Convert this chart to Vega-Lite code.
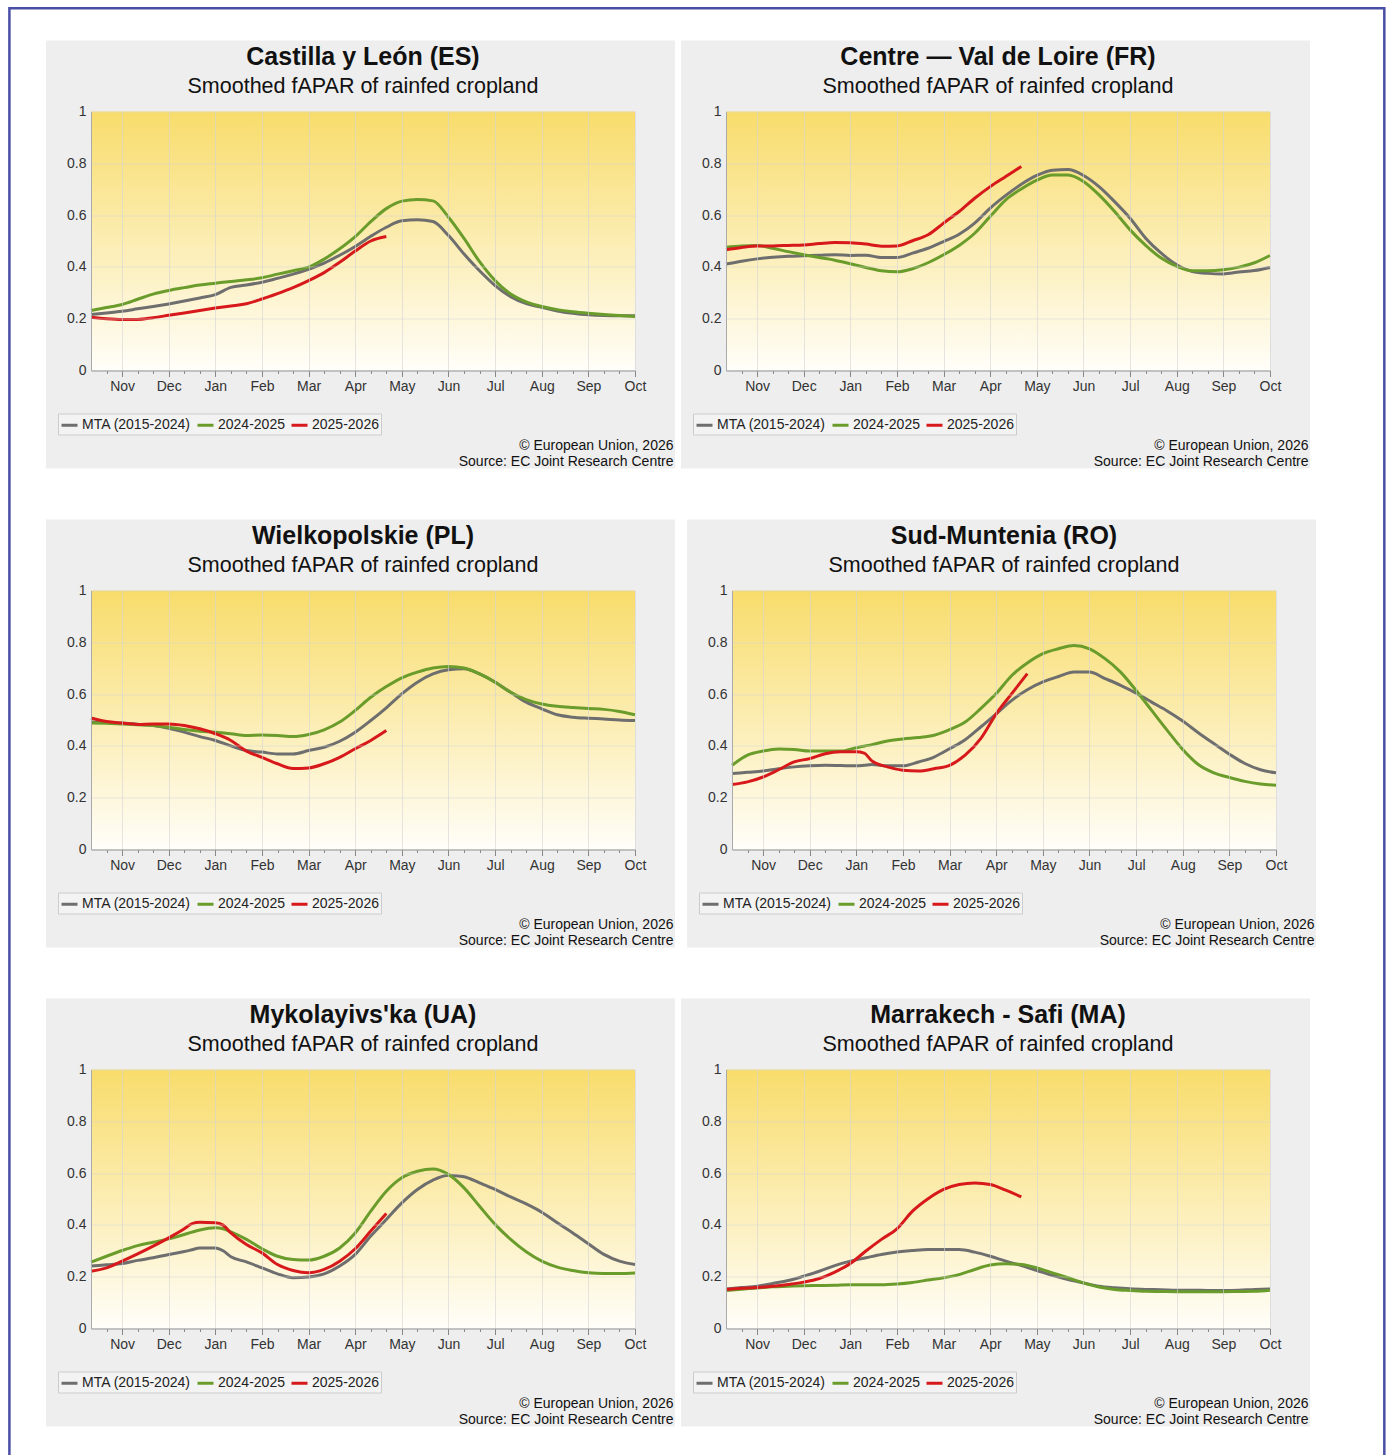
{
"$schema": "https://vega.github.io/schema/vega-lite/v6.json",
"padding": {"left": 8, "top": 6.5, "right": 5, "bottom": 5},
"background": "white",
"bounds": "flush",
"spacing": 479,
"resolve": {"scale": {"color": "independent"}, "legend": {"color": "independent"}},
"config": {
  "font": "Liberation Sans",
  "view": {"stroke": null},
  "title": {"fontSize": 25, "fontWeight": "bold", "color": "#111111", "subtitleFontSize": 21.5, "subtitleColor": "#111111", "subtitlePadding": 6, "anchor": "middle", "frame": "group", "subtitleFont": "Liberation Sans", "font": "Liberation Sans"},
  "axis": {"labelFont": "Liberation Sans", "labelFontSize": 14, "labelColor": "#333333", "titleFont": "Liberation Sans"},
  "legend": {"labelFont": "Liberation Sans"}
},
"datasets": {
"CL": [
{"d":0,"MTA (2015-2024)":0.216,"2024-2025":0.232,"2025-2026":0.206},
{"d":1,"MTA (2015-2024)":0.222,"2024-2025":0.243,"2025-2026":0.200},
{"d":2,"MTA (2015-2024)":0.229,"2024-2025":0.255,"2025-2026":0.197},
{"d":3,"MTA (2015-2024)":0.238,"2024-2025":0.275,"2025-2026":0.197},
{"d":4,"MTA (2015-2024)":0.247,"2024-2025":0.295,"2025-2026":0.204},
{"d":5,"MTA (2015-2024)":0.257,"2024-2025":0.309,"2025-2026":0.213},
{"d":6,"MTA (2015-2024)":0.268,"2024-2025":0.320,"2025-2026":0.222},
{"d":7,"MTA (2015-2024)":0.280,"2024-2025":0.330,"2025-2026":0.232},
{"d":8,"MTA (2015-2024)":0.293,"2024-2025":0.337,"2025-2026":0.241},
{"d":9,"MTA (2015-2024)":0.321,"2024-2025":0.344,"2025-2026":0.249},
{"d":10,"MTA (2015-2024)":0.330,"2024-2025":0.350,"2025-2026":0.258},
{"d":11,"MTA (2015-2024)":0.341,"2024-2025":0.358,"2025-2026":0.276},
{"d":12,"MTA (2015-2024)":0.356,"2024-2025":0.372,"2025-2026":0.297},
{"d":13,"MTA (2015-2024)":0.372,"2024-2025":0.385,"2025-2026":0.320},
{"d":14,"MTA (2015-2024)":0.391,"2024-2025":0.399,"2025-2026":0.347},
{"d":15,"MTA (2015-2024)":0.415,"2024-2025":0.430,"2025-2026":0.378},
{"d":16,"MTA (2015-2024)":0.445,"2024-2025":0.470,"2025-2026":0.418},
{"d":17,"MTA (2015-2024)":0.479,"2024-2025":0.517,"2025-2026":0.461},
{"d":18,"MTA (2015-2024)":0.518,"2024-2025":0.575,"2025-2026":0.500},
{"d":19,"MTA (2015-2024)":0.553,"2024-2025":0.625,"2025-2026":0.517},
{"d":20,"MTA (2015-2024)":0.578,"2024-2025":0.654},
{"d":21,"MTA (2015-2024)":0.582,"2024-2025":0.660},
{"d":22,"MTA (2015-2024)":0.575,"2024-2025":0.655},
{"d":23,"MTA (2015-2024)":0.521,"2024-2025":0.592},
{"d":24,"MTA (2015-2024)":0.450,"2024-2025":0.510},
{"d":25,"MTA (2015-2024)":0.385,"2024-2025":0.420},
{"d":26,"MTA (2015-2024)":0.328,"2024-2025":0.347},
{"d":27,"MTA (2015-2024)":0.285,"2024-2025":0.295},
{"d":28,"MTA (2015-2024)":0.258,"2024-2025":0.265},
{"d":29,"MTA (2015-2024)":0.244,"2024-2025":0.247},
{"d":30,"MTA (2015-2024)":0.230,"2024-2025":0.235},
{"d":31,"MTA (2015-2024)":0.221,"2024-2025":0.227},
{"d":32,"MTA (2015-2024)":0.215,"2024-2025":0.221},
{"d":33,"MTA (2015-2024)":0.212,"2024-2025":0.216},
{"d":34,"MTA (2015-2024)":0.211,"2024-2025":0.212},
{"d":35,"MTA (2015-2024)":0.211,"2024-2025":0.208}
],
"CVL": [
{"d":0,"MTA (2015-2024)":0.411,"2024-2025":0.476,"2025-2026":0.466},
{"d":1,"MTA (2015-2024)":0.422,"2024-2025":0.481,"2025-2026":0.475},
{"d":2,"MTA (2015-2024)":0.431,"2024-2025":0.483,"2025-2026":0.481},
{"d":3,"MTA (2015-2024)":0.437,"2024-2025":0.472,"2025-2026":0.481},
{"d":4,"MTA (2015-2024)":0.441,"2024-2025":0.459,"2025-2026":0.483},
{"d":5,"MTA (2015-2024)":0.443,"2024-2025":0.447,"2025-2026":0.485},
{"d":6,"MTA (2015-2024)":0.445,"2024-2025":0.436,"2025-2026":0.490},
{"d":7,"MTA (2015-2024)":0.447,"2024-2025":0.426,"2025-2026":0.494},
{"d":8,"MTA (2015-2024)":0.444,"2024-2025":0.412,"2025-2026":0.493},
{"d":9,"MTA (2015-2024)":0.445,"2024-2025":0.398,"2025-2026":0.488},
{"d":10,"MTA (2015-2024)":0.436,"2024-2025":0.385,"2025-2026":0.480},
{"d":11,"MTA (2015-2024)":0.436,"2024-2025":0.381,"2025-2026":0.481},
{"d":12,"MTA (2015-2024)":0.453,"2024-2025":0.393,"2025-2026":0.501},
{"d":13,"MTA (2015-2024)":0.472,"2024-2025":0.416,"2025-2026":0.524},
{"d":14,"MTA (2015-2024)":0.498,"2024-2025":0.447,"2025-2026":0.569},
{"d":15,"MTA (2015-2024)":0.526,"2024-2025":0.483,"2025-2026":0.614},
{"d":16,"MTA (2015-2024)":0.569,"2024-2025":0.530,"2025-2026":0.665},
{"d":17,"MTA (2015-2024)":0.627,"2024-2025":0.595,"2025-2026":0.710},
{"d":18,"MTA (2015-2024)":0.676,"2024-2025":0.659,"2025-2026":0.749},
{"d":19,"MTA (2015-2024)":0.719,"2024-2025":0.701,"2025-2026":0.788},
{"d":20,"MTA (2015-2024)":0.753,"2024-2025":0.735},
{"d":21,"MTA (2015-2024)":0.773,"2024-2025":0.755},
{"d":22,"MTA (2015-2024)":0.776,"2024-2025":0.755},
{"d":23,"MTA (2015-2024)":0.753,"2024-2025":0.730},
{"d":24,"MTA (2015-2024)":0.710,"2024-2025":0.678},
{"d":25,"MTA (2015-2024)":0.652,"2024-2025":0.614},
{"d":26,"MTA (2015-2024)":0.588,"2024-2025":0.543},
{"d":27,"MTA (2015-2024)":0.511,"2024-2025":0.483},
{"d":28,"MTA (2015-2024)":0.453,"2024-2025":0.434},
{"d":29,"MTA (2015-2024)":0.408,"2024-2025":0.402},
{"d":30,"MTA (2015-2024)":0.382,"2024-2025":0.385},
{"d":31,"MTA (2015-2024)":0.375,"2024-2025":0.385},
{"d":32,"MTA (2015-2024)":0.373,"2024-2025":0.389},
{"d":33,"MTA (2015-2024)":0.380,"2024-2025":0.399},
{"d":34,"MTA (2015-2024)":0.386,"2024-2025":0.416},
{"d":35,"MTA (2015-2024)":0.398,"2024-2025":0.444}
],
"WP": [
{"d":0,"MTA (2015-2024)":0.492,"2024-2025":0.488,"2025-2026":0.508},
{"d":1,"MTA (2015-2024)":0.490,"2024-2025":0.487,"2025-2026":0.494},
{"d":2,"MTA (2015-2024)":0.488,"2024-2025":0.485,"2025-2026":0.488},
{"d":3,"MTA (2015-2024)":0.484,"2024-2025":0.482,"2025-2026":0.483},
{"d":4,"MTA (2015-2024)":0.479,"2024-2025":0.479,"2025-2026":0.485},
{"d":5,"MTA (2015-2024)":0.468,"2024-2025":0.472,"2025-2026":0.485},
{"d":6,"MTA (2015-2024)":0.453,"2024-2025":0.463,"2025-2026":0.479},
{"d":7,"MTA (2015-2024)":0.436,"2024-2025":0.457,"2025-2026":0.466},
{"d":8,"MTA (2015-2024)":0.421,"2024-2025":0.453,"2025-2026":0.447},
{"d":9,"MTA (2015-2024)":0.400,"2024-2025":0.447,"2025-2026":0.421},
{"d":10,"MTA (2015-2024)":0.382,"2024-2025":0.440,"2025-2026":0.380},
{"d":11,"MTA (2015-2024)":0.376,"2024-2025":0.442,"2025-2026":0.356},
{"d":12,"MTA (2015-2024)":0.369,"2024-2025":0.440,"2025-2026":0.331},
{"d":13,"MTA (2015-2024)":0.369,"2024-2025":0.436,"2025-2026":0.313},
{"d":14,"MTA (2015-2024)":0.382,"2024-2025":0.444,"2025-2026":0.315},
{"d":15,"MTA (2015-2024)":0.395,"2024-2025":0.462,"2025-2026":0.331},
{"d":16,"MTA (2015-2024)":0.418,"2024-2025":0.492,"2025-2026":0.356},
{"d":17,"MTA (2015-2024)":0.453,"2024-2025":0.537,"2025-2026":0.389},
{"d":18,"MTA (2015-2024)":0.498,"2024-2025":0.588,"2025-2026":0.421},
{"d":19,"MTA (2015-2024)":0.547,"2024-2025":0.629,"2025-2026":0.459},
{"d":20,"MTA (2015-2024)":0.601,"2024-2025":0.663},
{"d":21,"MTA (2015-2024)":0.646,"2024-2025":0.685},
{"d":22,"MTA (2015-2024)":0.678,"2024-2025":0.701},
{"d":23,"MTA (2015-2024)":0.694,"2024-2025":0.707},
{"d":24,"MTA (2015-2024)":0.698,"2024-2025":0.701},
{"d":25,"MTA (2015-2024)":0.678,"2024-2025":0.678},
{"d":26,"MTA (2015-2024)":0.646,"2024-2025":0.646},
{"d":27,"MTA (2015-2024)":0.607,"2024-2025":0.607},
{"d":28,"MTA (2015-2024)":0.569,"2024-2025":0.579},
{"d":29,"MTA (2015-2024)":0.543,"2024-2025":0.562},
{"d":30,"MTA (2015-2024)":0.520,"2024-2025":0.553},
{"d":31,"MTA (2015-2024)":0.511,"2024-2025":0.548},
{"d":32,"MTA (2015-2024)":0.507,"2024-2025":0.544},
{"d":33,"MTA (2015-2024)":0.504,"2024-2025":0.541},
{"d":34,"MTA (2015-2024)":0.500,"2024-2025":0.533},
{"d":35,"MTA (2015-2024)":0.498,"2024-2025":0.520}
],
"SM": [
{"d":0,"MTA (2015-2024)":0.293,"2024-2025":0.325,"2025-2026":0.251},
{"d":1,"MTA (2015-2024)":0.298,"2024-2025":0.364,"2025-2026":0.261},
{"d":2,"MTA (2015-2024)":0.303,"2024-2025":0.380,"2025-2026":0.280},
{"d":3,"MTA (2015-2024)":0.312,"2024-2025":0.388,"2025-2026":0.308},
{"d":4,"MTA (2015-2024)":0.319,"2024-2025":0.386,"2025-2026":0.338},
{"d":5,"MTA (2015-2024)":0.323,"2024-2025":0.380,"2025-2026":0.351},
{"d":6,"MTA (2015-2024)":0.325,"2024-2025":0.380,"2025-2026":0.370},
{"d":7,"MTA (2015-2024)":0.324,"2024-2025":0.380,"2025-2026":0.377},
{"d":8,"MTA (2015-2024)":0.323,"2024-2025":0.393,"2025-2026":0.377},
{"d":8.5,"MTA (2015-2024)":0.325,"2024-2025":0.399,"2025-2026":0.372},
{"d":9,"MTA (2015-2024)":0.328,"2024-2025":0.405,"2025-2026":0.342},
{"d":10,"MTA (2015-2024)":0.323,"2024-2025":0.419,"2025-2026":0.319},
{"d":11,"MTA (2015-2024)":0.323,"2024-2025":0.427,"2025-2026":0.306},
{"d":12,"MTA (2015-2024)":0.338,"2024-2025":0.432,"2025-2026":0.303},
{"d":13,"MTA (2015-2024)":0.357,"2024-2025":0.441,"2025-2026":0.312},
{"d":14,"MTA (2015-2024)":0.389,"2024-2025":0.463,"2025-2026":0.325},
{"d":15,"MTA (2015-2024)":0.424,"2024-2025":0.492,"2025-2026":0.364},
{"d":16,"MTA (2015-2024)":0.473,"2024-2025":0.544,"2025-2026":0.428},
{"d":17,"MTA (2015-2024)":0.524,"2024-2025":0.602,"2025-2026":0.524},
{"d":18,"MTA (2015-2024)":0.576,"2024-2025":0.672,"2025-2026":0.602},
{"d":19,"MTA (2015-2024)":0.617,"2024-2025":0.720,"2025-2026":0.679},
{"d":20,"MTA (2015-2024)":0.647,"2024-2025":0.756},
{"d":21,"MTA (2015-2024)":0.668,"2024-2025":0.775},
{"d":22,"MTA (2015-2024)":0.685,"2024-2025":0.788},
{"d":23,"MTA (2015-2024)":0.685,"2024-2025":0.775},
{"d":24,"MTA (2015-2024)":0.660,"2024-2025":0.737},
{"d":25,"MTA (2015-2024)":0.634,"2024-2025":0.685},
{"d":26,"MTA (2015-2024)":0.604,"2024-2025":0.614},
{"d":27,"MTA (2015-2024)":0.569,"2024-2025":0.537},
{"d":28,"MTA (2015-2024)":0.535,"2024-2025":0.460},
{"d":29,"MTA (2015-2024)":0.496,"2024-2025":0.386},
{"d":30,"MTA (2015-2024)":0.451,"2024-2025":0.328},
{"d":31,"MTA (2015-2024)":0.409,"2024-2025":0.296},
{"d":32,"MTA (2015-2024)":0.368,"2024-2025":0.278},
{"d":33,"MTA (2015-2024)":0.332,"2024-2025":0.263},
{"d":34,"MTA (2015-2024)":0.308,"2024-2025":0.253},
{"d":35,"MTA (2015-2024)":0.296,"2024-2025":0.248}
],
"MY": [
{"d":0,"MTA (2015-2024)":0.241,"2024-2025":0.256,"2025-2026":0.221},
{"d":1,"MTA (2015-2024)":0.246,"2024-2025":0.279,"2025-2026":0.234},
{"d":2,"MTA (2015-2024)":0.251,"2024-2025":0.301,"2025-2026":0.260},
{"d":3,"MTA (2015-2024)":0.263,"2024-2025":0.320,"2025-2026":0.288},
{"d":4,"MTA (2015-2024)":0.273,"2024-2025":0.333,"2025-2026":0.318},
{"d":5,"MTA (2015-2024)":0.286,"2024-2025":0.346,"2025-2026":0.350},
{"d":6,"MTA (2015-2024)":0.297,"2024-2025":0.363,"2025-2026":0.385},
{"d":6.5,"MTA (2015-2024)":0.304,"2024-2025":0.372,"2025-2026":0.405},
{"d":7,"MTA (2015-2024)":0.311,"2024-2025":0.380,"2025-2026":0.410},
{"d":8,"MTA (2015-2024)":0.311,"2024-2025":0.389,"2025-2026":0.408},
{"d":8.5,"MTA (2015-2024)":0.300,"2024-2025":0.385,"2025-2026":0.399},
{"d":9,"MTA (2015-2024)":0.277,"2024-2025":0.373,"2025-2026":0.369},
{"d":10,"MTA (2015-2024)":0.257,"2024-2025":0.344,"2025-2026":0.324},
{"d":11,"MTA (2015-2024)":0.234,"2024-2025":0.308,"2025-2026":0.292},
{"d":12,"MTA (2015-2024)":0.211,"2024-2025":0.279,"2025-2026":0.247},
{"d":13,"MTA (2015-2024)":0.196,"2024-2025":0.266,"2025-2026":0.224},
{"d":14,"MTA (2015-2024)":0.199,"2024-2025":0.264,"2025-2026":0.215},
{"d":15,"MTA (2015-2024)":0.211,"2024-2025":0.279,"2025-2026":0.228},
{"d":16,"MTA (2015-2024)":0.241,"2024-2025":0.311,"2025-2026":0.260},
{"d":17,"MTA (2015-2024)":0.286,"2024-2025":0.369,"2025-2026":0.308},
{"d":18,"MTA (2015-2024)":0.357,"2024-2025":0.453,"2025-2026":0.376},
{"d":19,"MTA (2015-2024)":0.421,"2024-2025":0.530,"2025-2026":0.444},
{"d":20,"MTA (2015-2024)":0.485,"2024-2025":0.582},
{"d":21,"MTA (2015-2024)":0.537,"2024-2025":0.607},
{"d":22,"MTA (2015-2024)":0.573,"2024-2025":0.616},
{"d":23,"MTA (2015-2024)":0.592,"2024-2025":0.595},
{"d":24,"MTA (2015-2024)":0.586,"2024-2025":0.543},
{"d":25,"MTA (2015-2024)":0.562,"2024-2025":0.472},
{"d":26,"MTA (2015-2024)":0.537,"2024-2025":0.402},
{"d":27,"MTA (2015-2024)":0.508,"2024-2025":0.344},
{"d":28,"MTA (2015-2024)":0.481,"2024-2025":0.296},
{"d":29,"MTA (2015-2024)":0.449,"2024-2025":0.260},
{"d":30,"MTA (2015-2024)":0.408,"2024-2025":0.237},
{"d":31,"MTA (2015-2024)":0.369,"2024-2025":0.224},
{"d":32,"MTA (2015-2024)":0.327,"2024-2025":0.215},
{"d":33,"MTA (2015-2024)":0.286,"2024-2025":0.212},
{"d":34,"MTA (2015-2024)":0.260,"2024-2025":0.212},
{"d":35,"MTA (2015-2024)":0.247,"2024-2025":0.214}
],
"MS": [
{"d":0,"MTA (2015-2024)":0.153,"2024-2025":0.147,"2025-2026":0.151},
{"d":1,"MTA (2015-2024)":0.158,"2024-2025":0.152,"2025-2026":0.155},
{"d":2,"MTA (2015-2024)":0.163,"2024-2025":0.156,"2025-2026":0.158},
{"d":3,"MTA (2015-2024)":0.174,"2024-2025":0.161,"2025-2026":0.163},
{"d":4,"MTA (2015-2024)":0.185,"2024-2025":0.163,"2025-2026":0.170},
{"d":5,"MTA (2015-2024)":0.202,"2024-2025":0.165,"2025-2026":0.179},
{"d":6,"MTA (2015-2024)":0.221,"2024-2025":0.166,"2025-2026":0.193},
{"d":7,"MTA (2015-2024)":0.243,"2024-2025":0.167,"2025-2026":0.218},
{"d":8,"MTA (2015-2024)":0.260,"2024-2025":0.169,"2025-2026":0.251},
{"d":9,"MTA (2015-2024)":0.273,"2024-2025":0.169,"2025-2026":0.299},
{"d":10,"MTA (2015-2024)":0.286,"2024-2025":0.169,"2025-2026":0.344},
{"d":11,"MTA (2015-2024)":0.295,"2024-2025":0.172,"2025-2026":0.385},
{"d":12,"MTA (2015-2024)":0.301,"2024-2025":0.178,"2025-2026":0.453},
{"d":13,"MTA (2015-2024)":0.305,"2024-2025":0.187,"2025-2026":0.501},
{"d":14,"MTA (2015-2024)":0.305,"2024-2025":0.196,"2025-2026":0.537},
{"d":15,"MTA (2015-2024)":0.305,"2024-2025":0.208,"2025-2026":0.556},
{"d":16,"MTA (2015-2024)":0.295,"2024-2025":0.228,"2025-2026":0.562},
{"d":17,"MTA (2015-2024)":0.279,"2024-2025":0.245,"2025-2026":0.556},
{"d":18,"MTA (2015-2024)":0.260,"2024-2025":0.250,"2025-2026":0.534},
{"d":19,"MTA (2015-2024)":0.243,"2024-2025":0.247,"2025-2026":0.508},
{"d":20,"MTA (2015-2024)":0.224,"2024-2025":0.234},
{"d":21,"MTA (2015-2024)":0.205,"2024-2025":0.215},
{"d":22,"MTA (2015-2024)":0.189,"2024-2025":0.196},
{"d":23,"MTA (2015-2024)":0.176,"2024-2025":0.176},
{"d":24,"MTA (2015-2024)":0.163,"2024-2025":0.160},
{"d":25,"MTA (2015-2024)":0.157,"2024-2025":0.151},
{"d":26,"MTA (2015-2024)":0.153,"2024-2025":0.147},
{"d":27,"MTA (2015-2024)":0.151,"2024-2025":0.144},
{"d":28,"MTA (2015-2024)":0.150,"2024-2025":0.143},
{"d":29,"MTA (2015-2024)":0.148,"2024-2025":0.142},
{"d":30,"MTA (2015-2024)":0.148,"2024-2025":0.142},
{"d":31,"MTA (2015-2024)":0.147,"2024-2025":0.142},
{"d":32,"MTA (2015-2024)":0.147,"2024-2025":0.142},
{"d":33,"MTA (2015-2024)":0.148,"2024-2025":0.143},
{"d":34,"MTA (2015-2024)":0.151,"2024-2025":0.144},
{"d":35,"MTA (2015-2024)":0.153,"2024-2025":0.148}
]
},
"vconcat": [
{"hconcat": [
{"width": 544, "height": 259,
 "title": {"text": "Castilla y León (ES)", "subtitle": "Smoothed fAPAR of rainfed cropland", "offset": -91},
 "layer": [
  {"data": {"values": [{}]}, "mark": {"type": "rect", "fill": "transparent", "stroke": "#4a4fa6", "strokeWidth": 2.5},
   "encoding": {"x": {"datum": -5.25, "type": "quantitative", "scale": {"domain": [0,35], "nice": false, "zero": false}}, "x2": {"datum": 83.21},
                "y": {"datum": 1.3988, "type": "quantitative", "scale": {"domain": [0,1], "nice": false, "zero": false}}, "y2": {"datum": -4.29}}},
  {"data": {"values": [{}]}, "mark": {"type": "rect", "fill": "#eeeeee"},
   "encoding": {"x": {"datum": -2.895, "type": "quantitative", "scale": {"domain": [0,35], "nice": false, "zero": false}}, "x2": {"datum": 37.573},
                "y": {"datum": -0.3784, "type": "quantitative", "scale": {"domain": [0,1], "nice": false, "zero": false}}, "y2": {"datum": 1.2741}}},
  {"data": {"values": [{}]}, "mark": {"type": "rect", "fill": {"gradient": "linear", "x1": 0, "y1": 0, "x2": 0, "y2": 1, "stops": [{"offset": 0, "color": "#f8dc6b"}, {"offset": 1, "color": "#fffef9"}]}},
   "encoding": {"x": {"datum": 0, "type": "quantitative", "scale": {"domain": [0,35], "nice": false, "zero": false}}, "x2": {"datum": 35},
                "y": {"datum": 0, "type": "quantitative", "scale": {"domain": [0,1], "nice": false, "zero": false}}, "y2": {"datum": 1}}},
  {"data": {"name": "CL"},
   "transform": [{"fold": ["MTA (2015-2024)", "2024-2025", "2025-2026"], "as": ["series", "fapar"]}, {"filter": "isValid(datum.fapar)"}],
   "mark": {"type": "line", "interpolate": "monotone", "strokeWidth": 3, "zindex": 2},
   "encoding": {
    "x": {"field": "d", "type": "quantitative", "scale": {"domain": [0,35], "nice": false, "zero": false},
          "axis": {"values": [1,2,3,4,5,6,7,8,9,10,11,12,13,14,15,16,17,18,19,20,21,22,23,24,25,26,27,28,29,30,31,32,33,34,35], "tickCount": 40,
                   "labelExpr": "datum.value % 3 == 2 ? ['Nov','Dec','Jan','Feb','Mar','Apr','May','Jun','Jul','Aug','Sep','Oct'][(datum.value - 2) / 3] : ''",
                   "tickSize": {"condition": {"test": "datum.value % 3 == 2", "value": 6}, "value": 3}, "tickColor": "#888888", "domainColor": "#999999",
                   "grid": true, "gridColor": "#d4d4d4", "gridOpacity": {"condition": {"test": "datum.value % 3 == 2", "value": 0.6}, "value": 0},
                   "labelOverlap": false, "labelFlush": false, "labelBound": false, "labelPadding": 3, "zindex": 1,
                   "title": ["© European Union, 2026", "Source: EC Joint Research Centre"], "titleX": 582, "titleY": 79, "titleAlign": "right", "titleAnchor": "end", "titleBaseline": "alphabetic",
                   "titleFontSize": 14, "titleFontWeight": "normal", "titleColor": "#111111", "titleLineHeight": 16}},
    "y": {"field": "fapar", "type": "quantitative", "scale": {"domain": [0,1], "nice": false, "zero": false},
          "axis": {"values": [0,0.2,0.4,0.6,0.8,1], "format": ".1~f", "ticks": false, "domainColor": "#aaaaaa", "labelPadding": 5, "grid": true, "gridColor": "#d4d4d4", "gridOpacity": 0.5, "title": null, "zindex": 1}},
    "color": {"field": "series", "type": "nominal", "scale": {"domain": ["MTA (2015-2024)", "2024-2025", "2025-2026"], "range": ["#6e6e6e", "#6a9c2c", "#d7191c"]},
              "legend": {"orient": "none", "legendX": -33, "legendY": 302, "direction": "horizontal", "title": null, "symbolType": "stroke", "symbolSize": 256, "symbolStrokeWidth": 3,
                         "labelFontSize": 14, "labelColor": "#222222", "labelOffset": 3, "columnPadding": 0, "padding": 2, "strokeColor": "#cccccc", "fillColor": "#f3f3f3"}}
   }}
 ]},
{"width": 544, "height": 259,
 "title": {"text": "Centre — Val de Loire (FR)", "subtitle": "Smoothed fAPAR of rainfed cropland", "offset": -57},
 "layer": [
  {"data": {"values": [{}]}, "mark": {"type": "rect", "fill": "#eeeeee"},
   "encoding": {"x": {"datum": -2.895, "type": "quantitative", "scale": {"domain": [0,35], "nice": false, "zero": false}}, "x2": {"datum": 37.573},
                "y": {"datum": -0.3784, "type": "quantitative", "scale": {"domain": [0,1], "nice": false, "zero": false}}, "y2": {"datum": 1.2741}}},
  {"data": {"values": [{}]}, "mark": {"type": "rect", "fill": {"gradient": "linear", "x1": 0, "y1": 0, "x2": 0, "y2": 1, "stops": [{"offset": 0, "color": "#f8dc6b"}, {"offset": 1, "color": "#fffef9"}]}},
   "encoding": {"x": {"datum": 0, "type": "quantitative", "scale": {"domain": [0,35], "nice": false, "zero": false}}, "x2": {"datum": 35},
                "y": {"datum": 0, "type": "quantitative", "scale": {"domain": [0,1], "nice": false, "zero": false}}, "y2": {"datum": 1}}},
  {"data": {"name": "CVL"},
   "transform": [{"fold": ["MTA (2015-2024)", "2024-2025", "2025-2026"], "as": ["series", "fapar"]}, {"filter": "isValid(datum.fapar)"}],
   "mark": {"type": "line", "interpolate": "monotone", "strokeWidth": 3, "zindex": 2},
   "encoding": {
    "x": {"field": "d", "type": "quantitative", "scale": {"domain": [0,35], "nice": false, "zero": false},
          "axis": {"values": [1,2,3,4,5,6,7,8,9,10,11,12,13,14,15,16,17,18,19,20,21,22,23,24,25,26,27,28,29,30,31,32,33,34,35], "tickCount": 40,
                   "labelExpr": "datum.value % 3 == 2 ? ['Nov','Dec','Jan','Feb','Mar','Apr','May','Jun','Jul','Aug','Sep','Oct'][(datum.value - 2) / 3] : ''",
                   "tickSize": {"condition": {"test": "datum.value % 3 == 2", "value": 6}, "value": 3}, "tickColor": "#888888", "domainColor": "#999999",
                   "grid": true, "gridColor": "#d4d4d4", "gridOpacity": {"condition": {"test": "datum.value % 3 == 2", "value": 0.6}, "value": 0},
                   "labelOverlap": false, "labelFlush": false, "labelBound": false, "labelPadding": 3, "zindex": 1,
                   "title": ["© European Union, 2026", "Source: EC Joint Research Centre"], "titleX": 582, "titleY": 79, "titleAlign": "right", "titleAnchor": "end", "titleBaseline": "alphabetic",
                   "titleFontSize": 14, "titleFontWeight": "normal", "titleColor": "#111111", "titleLineHeight": 16}},
    "y": {"field": "fapar", "type": "quantitative", "scale": {"domain": [0,1], "nice": false, "zero": false},
          "axis": {"values": [0,0.2,0.4,0.6,0.8,1], "format": ".1~f", "ticks": false, "domainColor": "#aaaaaa", "labelPadding": 5, "grid": true, "gridColor": "#d4d4d4", "gridOpacity": 0.5, "title": null, "zindex": 1}},
    "color": {"field": "series", "type": "nominal", "scale": {"domain": ["MTA (2015-2024)", "2024-2025", "2025-2026"], "range": ["#6e6e6e", "#6a9c2c", "#d7191c"]},
              "legend": {"orient": "none", "legendX": -33, "legendY": 302, "direction": "horizontal", "title": null, "symbolType": "stroke", "symbolSize": 256, "symbolStrokeWidth": 3,
                         "labelFontSize": 14, "labelColor": "#222222", "labelOffset": 3, "columnPadding": 0, "padding": 2, "strokeColor": "#cccccc", "fillColor": "#f3f3f3"}}
   }}
 ]}
], "spacing": 91, "bounds": "flush", "resolve": {"scale": {"color": "independent"}, "legend": {"color": "independent"}}},
{"hconcat": [
{"width": 544, "height": 259,
 "title": {"text": "Wielkopolskie (PL)", "subtitle": "Smoothed fAPAR of rainfed cropland", "offset": -57},
 "layer": [
  {"data": {"values": [{}]}, "mark": {"type": "rect", "fill": "#eeeeee"},
   "encoding": {"x": {"datum": -2.895, "type": "quantitative", "scale": {"domain": [0,35], "nice": false, "zero": false}}, "x2": {"datum": 37.573},
                "y": {"datum": -0.3784, "type": "quantitative", "scale": {"domain": [0,1], "nice": false, "zero": false}}, "y2": {"datum": 1.2741}}},
  {"data": {"values": [{}]}, "mark": {"type": "rect", "fill": {"gradient": "linear", "x1": 0, "y1": 0, "x2": 0, "y2": 1, "stops": [{"offset": 0, "color": "#f8dc6b"}, {"offset": 1, "color": "#fffef9"}]}},
   "encoding": {"x": {"datum": 0, "type": "quantitative", "scale": {"domain": [0,35], "nice": false, "zero": false}}, "x2": {"datum": 35},
                "y": {"datum": 0, "type": "quantitative", "scale": {"domain": [0,1], "nice": false, "zero": false}}, "y2": {"datum": 1}}},
  {"data": {"name": "WP"},
   "transform": [{"fold": ["MTA (2015-2024)", "2024-2025", "2025-2026"], "as": ["series", "fapar"]}, {"filter": "isValid(datum.fapar)"}],
   "mark": {"type": "line", "interpolate": "monotone", "strokeWidth": 3, "zindex": 2},
   "encoding": {
    "x": {"field": "d", "type": "quantitative", "scale": {"domain": [0,35], "nice": false, "zero": false},
          "axis": {"values": [1,2,3,4,5,6,7,8,9,10,11,12,13,14,15,16,17,18,19,20,21,22,23,24,25,26,27,28,29,30,31,32,33,34,35], "tickCount": 40,
                   "labelExpr": "datum.value % 3 == 2 ? ['Nov','Dec','Jan','Feb','Mar','Apr','May','Jun','Jul','Aug','Sep','Oct'][(datum.value - 2) / 3] : ''",
                   "tickSize": {"condition": {"test": "datum.value % 3 == 2", "value": 6}, "value": 3}, "tickColor": "#888888", "domainColor": "#999999",
                   "grid": true, "gridColor": "#d4d4d4", "gridOpacity": {"condition": {"test": "datum.value % 3 == 2", "value": 0.6}, "value": 0},
                   "labelOverlap": false, "labelFlush": false, "labelBound": false, "labelPadding": 3, "zindex": 1,
                   "title": ["© European Union, 2026", "Source: EC Joint Research Centre"], "titleX": 582, "titleY": 79, "titleAlign": "right", "titleAnchor": "end", "titleBaseline": "alphabetic",
                   "titleFontSize": 14, "titleFontWeight": "normal", "titleColor": "#111111", "titleLineHeight": 16}},
    "y": {"field": "fapar", "type": "quantitative", "scale": {"domain": [0,1], "nice": false, "zero": false},
          "axis": {"values": [0,0.2,0.4,0.6,0.8,1], "format": ".1~f", "ticks": false, "domainColor": "#aaaaaa", "labelPadding": 5, "grid": true, "gridColor": "#d4d4d4", "gridOpacity": 0.5, "title": null, "zindex": 1}},
    "color": {"field": "series", "type": "nominal", "scale": {"domain": ["MTA (2015-2024)", "2024-2025", "2025-2026"], "range": ["#6e6e6e", "#6a9c2c", "#d7191c"]},
              "legend": {"orient": "none", "legendX": -33, "legendY": 302, "direction": "horizontal", "title": null, "symbolType": "stroke", "symbolSize": 256, "symbolStrokeWidth": 3,
                         "labelFontSize": 14, "labelColor": "#222222", "labelOffset": 3, "columnPadding": 0, "padding": 2, "strokeColor": "#cccccc", "fillColor": "#f3f3f3"}}
   }}
 ]},
{"width": 544, "height": 259,
 "title": {"text": "Sud-Muntenia (RO)", "subtitle": "Smoothed fAPAR of rainfed cropland", "offset": -57},
 "layer": [
  {"data": {"values": [{}]}, "mark": {"type": "rect", "fill": "#eeeeee"},
   "encoding": {"x": {"datum": -2.895, "type": "quantitative", "scale": {"domain": [0,35], "nice": false, "zero": false}}, "x2": {"datum": 37.573},
                "y": {"datum": -0.3784, "type": "quantitative", "scale": {"domain": [0,1], "nice": false, "zero": false}}, "y2": {"datum": 1.2741}}},
  {"data": {"values": [{}]}, "mark": {"type": "rect", "fill": {"gradient": "linear", "x1": 0, "y1": 0, "x2": 0, "y2": 1, "stops": [{"offset": 0, "color": "#f8dc6b"}, {"offset": 1, "color": "#fffef9"}]}},
   "encoding": {"x": {"datum": 0, "type": "quantitative", "scale": {"domain": [0,35], "nice": false, "zero": false}}, "x2": {"datum": 35},
                "y": {"datum": 0, "type": "quantitative", "scale": {"domain": [0,1], "nice": false, "zero": false}}, "y2": {"datum": 1}}},
  {"data": {"name": "SM"},
   "transform": [{"fold": ["MTA (2015-2024)", "2024-2025", "2025-2026"], "as": ["series", "fapar"]}, {"filter": "isValid(datum.fapar)"}],
   "mark": {"type": "line", "interpolate": "monotone", "strokeWidth": 3, "zindex": 2},
   "encoding": {
    "x": {"field": "d", "type": "quantitative", "scale": {"domain": [0,35], "nice": false, "zero": false},
          "axis": {"values": [1,2,3,4,5,6,7,8,9,10,11,12,13,14,15,16,17,18,19,20,21,22,23,24,25,26,27,28,29,30,31,32,33,34,35], "tickCount": 40,
                   "labelExpr": "datum.value % 3 == 2 ? ['Nov','Dec','Jan','Feb','Mar','Apr','May','Jun','Jul','Aug','Sep','Oct'][(datum.value - 2) / 3] : ''",
                   "tickSize": {"condition": {"test": "datum.value % 3 == 2", "value": 6}, "value": 3}, "tickColor": "#888888", "domainColor": "#999999",
                   "grid": true, "gridColor": "#d4d4d4", "gridOpacity": {"condition": {"test": "datum.value % 3 == 2", "value": 0.6}, "value": 0},
                   "labelOverlap": false, "labelFlush": false, "labelBound": false, "labelPadding": 3, "zindex": 1,
                   "title": ["© European Union, 2026", "Source: EC Joint Research Centre"], "titleX": 582, "titleY": 79, "titleAlign": "right", "titleAnchor": "end", "titleBaseline": "alphabetic",
                   "titleFontSize": 14, "titleFontWeight": "normal", "titleColor": "#111111", "titleLineHeight": 16}},
    "y": {"field": "fapar", "type": "quantitative", "scale": {"domain": [0,1], "nice": false, "zero": false},
          "axis": {"values": [0,0.2,0.4,0.6,0.8,1], "format": ".1~f", "ticks": false, "domainColor": "#aaaaaa", "labelPadding": 5, "grid": true, "gridColor": "#d4d4d4", "gridOpacity": 0.5, "title": null, "zindex": 1}},
    "color": {"field": "series", "type": "nominal", "scale": {"domain": ["MTA (2015-2024)", "2024-2025", "2025-2026"], "range": ["#6e6e6e", "#6a9c2c", "#d7191c"]},
              "legend": {"orient": "none", "legendX": -33, "legendY": 302, "direction": "horizontal", "title": null, "symbolType": "stroke", "symbolSize": 256, "symbolStrokeWidth": 3,
                         "labelFontSize": 14, "labelColor": "#222222", "labelOffset": 3, "columnPadding": 0, "padding": 2, "strokeColor": "#cccccc", "fillColor": "#f3f3f3"}}
   }}
 ]}
], "spacing": 97, "bounds": "flush", "resolve": {"scale": {"color": "independent"}, "legend": {"color": "independent"}}},
{"hconcat": [
{"width": 544, "height": 259,
 "title": {"text": "Mykolayivs'ka (UA)", "subtitle": "Smoothed fAPAR of rainfed cropland", "offset": -57},
 "layer": [
  {"data": {"values": [{}]}, "mark": {"type": "rect", "fill": "#eeeeee"},
   "encoding": {"x": {"datum": -2.895, "type": "quantitative", "scale": {"domain": [0,35], "nice": false, "zero": false}}, "x2": {"datum": 37.573},
                "y": {"datum": -0.3784, "type": "quantitative", "scale": {"domain": [0,1], "nice": false, "zero": false}}, "y2": {"datum": 1.2741}}},
  {"data": {"values": [{}]}, "mark": {"type": "rect", "fill": {"gradient": "linear", "x1": 0, "y1": 0, "x2": 0, "y2": 1, "stops": [{"offset": 0, "color": "#f8dc6b"}, {"offset": 1, "color": "#fffef9"}]}},
   "encoding": {"x": {"datum": 0, "type": "quantitative", "scale": {"domain": [0,35], "nice": false, "zero": false}}, "x2": {"datum": 35},
                "y": {"datum": 0, "type": "quantitative", "scale": {"domain": [0,1], "nice": false, "zero": false}}, "y2": {"datum": 1}}},
  {"data": {"name": "MY"},
   "transform": [{"fold": ["MTA (2015-2024)", "2024-2025", "2025-2026"], "as": ["series", "fapar"]}, {"filter": "isValid(datum.fapar)"}],
   "mark": {"type": "line", "interpolate": "monotone", "strokeWidth": 3, "zindex": 2},
   "encoding": {
    "x": {"field": "d", "type": "quantitative", "scale": {"domain": [0,35], "nice": false, "zero": false},
          "axis": {"values": [1,2,3,4,5,6,7,8,9,10,11,12,13,14,15,16,17,18,19,20,21,22,23,24,25,26,27,28,29,30,31,32,33,34,35], "tickCount": 40,
                   "labelExpr": "datum.value % 3 == 2 ? ['Nov','Dec','Jan','Feb','Mar','Apr','May','Jun','Jul','Aug','Sep','Oct'][(datum.value - 2) / 3] : ''",
                   "tickSize": {"condition": {"test": "datum.value % 3 == 2", "value": 6}, "value": 3}, "tickColor": "#888888", "domainColor": "#999999",
                   "grid": true, "gridColor": "#d4d4d4", "gridOpacity": {"condition": {"test": "datum.value % 3 == 2", "value": 0.6}, "value": 0},
                   "labelOverlap": false, "labelFlush": false, "labelBound": false, "labelPadding": 3, "zindex": 1,
                   "title": ["© European Union, 2026", "Source: EC Joint Research Centre"], "titleX": 582, "titleY": 79, "titleAlign": "right", "titleAnchor": "end", "titleBaseline": "alphabetic",
                   "titleFontSize": 14, "titleFontWeight": "normal", "titleColor": "#111111", "titleLineHeight": 16}},
    "y": {"field": "fapar", "type": "quantitative", "scale": {"domain": [0,1], "nice": false, "zero": false},
          "axis": {"values": [0,0.2,0.4,0.6,0.8,1], "format": ".1~f", "ticks": false, "domainColor": "#aaaaaa", "labelPadding": 5, "grid": true, "gridColor": "#d4d4d4", "gridOpacity": 0.5, "title": null, "zindex": 1}},
    "color": {"field": "series", "type": "nominal", "scale": {"domain": ["MTA (2015-2024)", "2024-2025", "2025-2026"], "range": ["#6e6e6e", "#6a9c2c", "#d7191c"]},
              "legend": {"orient": "none", "legendX": -33, "legendY": 302, "direction": "horizontal", "title": null, "symbolType": "stroke", "symbolSize": 256, "symbolStrokeWidth": 3,
                         "labelFontSize": 14, "labelColor": "#222222", "labelOffset": 3, "columnPadding": 0, "padding": 2, "strokeColor": "#cccccc", "fillColor": "#f3f3f3"}}
   }}
 ]},
{"width": 544, "height": 259,
 "title": {"text": "Marrakech - Safi (MA)", "subtitle": "Smoothed fAPAR of rainfed cropland", "offset": -57},
 "layer": [
  {"data": {"values": [{}]}, "mark": {"type": "rect", "fill": "#eeeeee"},
   "encoding": {"x": {"datum": -2.895, "type": "quantitative", "scale": {"domain": [0,35], "nice": false, "zero": false}}, "x2": {"datum": 37.573},
                "y": {"datum": -0.3784, "type": "quantitative", "scale": {"domain": [0,1], "nice": false, "zero": false}}, "y2": {"datum": 1.2741}}},
  {"data": {"values": [{}]}, "mark": {"type": "rect", "fill": {"gradient": "linear", "x1": 0, "y1": 0, "x2": 0, "y2": 1, "stops": [{"offset": 0, "color": "#f8dc6b"}, {"offset": 1, "color": "#fffef9"}]}},
   "encoding": {"x": {"datum": 0, "type": "quantitative", "scale": {"domain": [0,35], "nice": false, "zero": false}}, "x2": {"datum": 35},
                "y": {"datum": 0, "type": "quantitative", "scale": {"domain": [0,1], "nice": false, "zero": false}}, "y2": {"datum": 1}}},
  {"data": {"name": "MS"},
   "transform": [{"fold": ["MTA (2015-2024)", "2024-2025", "2025-2026"], "as": ["series", "fapar"]}, {"filter": "isValid(datum.fapar)"}],
   "mark": {"type": "line", "interpolate": "monotone", "strokeWidth": 3, "zindex": 2},
   "encoding": {
    "x": {"field": "d", "type": "quantitative", "scale": {"domain": [0,35], "nice": false, "zero": false},
          "axis": {"values": [1,2,3,4,5,6,7,8,9,10,11,12,13,14,15,16,17,18,19,20,21,22,23,24,25,26,27,28,29,30,31,32,33,34,35], "tickCount": 40,
                   "labelExpr": "datum.value % 3 == 2 ? ['Nov','Dec','Jan','Feb','Mar','Apr','May','Jun','Jul','Aug','Sep','Oct'][(datum.value - 2) / 3] : ''",
                   "tickSize": {"condition": {"test": "datum.value % 3 == 2", "value": 6}, "value": 3}, "tickColor": "#888888", "domainColor": "#999999",
                   "grid": true, "gridColor": "#d4d4d4", "gridOpacity": {"condition": {"test": "datum.value % 3 == 2", "value": 0.6}, "value": 0},
                   "labelOverlap": false, "labelFlush": false, "labelBound": false, "labelPadding": 3, "zindex": 1,
                   "title": ["© European Union, 2026", "Source: EC Joint Research Centre"], "titleX": 582, "titleY": 79, "titleAlign": "right", "titleAnchor": "end", "titleBaseline": "alphabetic",
                   "titleFontSize": 14, "titleFontWeight": "normal", "titleColor": "#111111", "titleLineHeight": 16}},
    "y": {"field": "fapar", "type": "quantitative", "scale": {"domain": [0,1], "nice": false, "zero": false},
          "axis": {"values": [0,0.2,0.4,0.6,0.8,1], "format": ".1~f", "ticks": false, "domainColor": "#aaaaaa", "labelPadding": 5, "grid": true, "gridColor": "#d4d4d4", "gridOpacity": 0.5, "title": null, "zindex": 1}},
    "color": {"field": "series", "type": "nominal", "scale": {"domain": ["MTA (2015-2024)", "2024-2025", "2025-2026"], "range": ["#6e6e6e", "#6a9c2c", "#d7191c"]},
              "legend": {"orient": "none", "legendX": -33, "legendY": 302, "direction": "horizontal", "title": null, "symbolType": "stroke", "symbolSize": 256, "symbolStrokeWidth": 3,
                         "labelFontSize": 14, "labelColor": "#222222", "labelOffset": 3, "columnPadding": 0, "padding": 2, "strokeColor": "#cccccc", "fillColor": "#f3f3f3"}}
   }}
 ]}
], "spacing": 91, "bounds": "flush", "resolve": {"scale": {"color": "independent"}, "legend": {"color": "independent"}}}
]
}
